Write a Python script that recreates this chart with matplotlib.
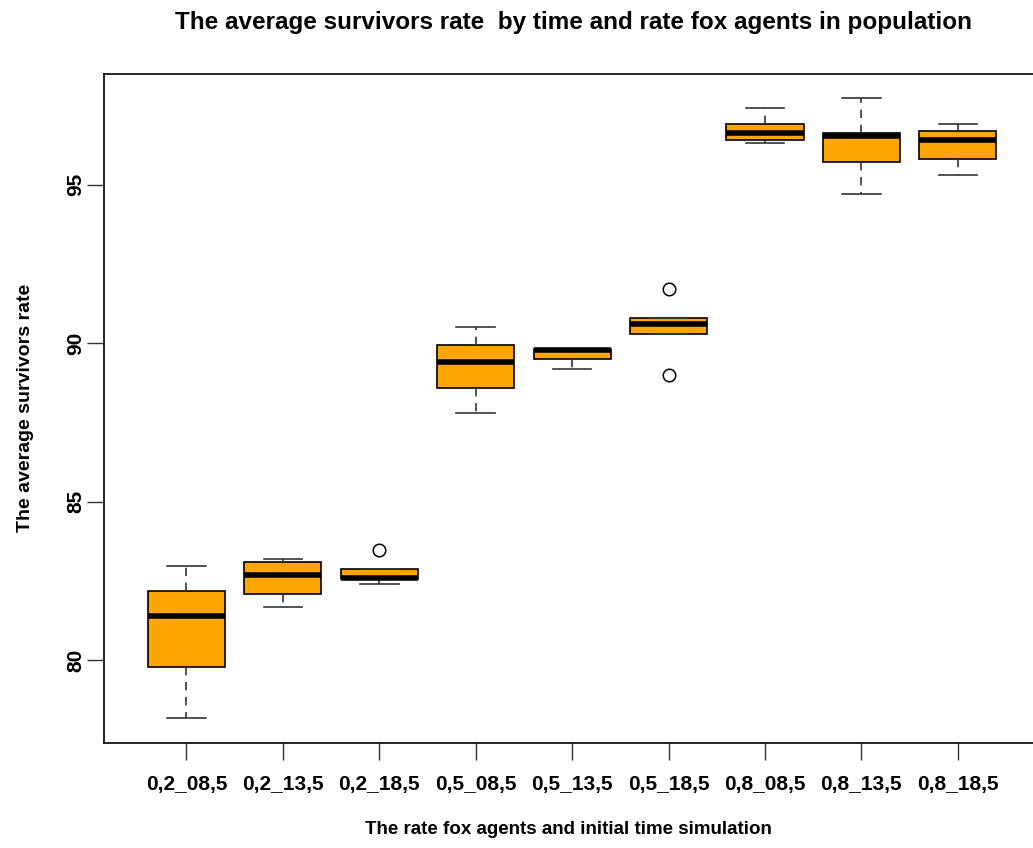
import matplotlib
matplotlib.use("Agg")
import matplotlib.pyplot as plt

# etiquetas de grupos
groups = ['0,2_08,5', '0,2_13,5', '0,2_18,5', '0,5_08,5', '0,5_13,5',
          '0,5_18,5', '0,8_08,5', '0,8_13,5', '0,8_18,5']

# estadisticas
whis_lo = [78.18, 81.68, 82.39, 87.79, 89.19, 90.29, 96.33, 94.72, 95.32]
q1 = [79.80, 82.08, 82.56, 88.59, 89.49, 90.29, 96.42, 95.73, 95.82]
med = [81.39, 82.69, 82.60, 89.40, 89.79, 90.60, 96.63, 96.54, 96.42]
q3 = [82.19, 83.09, 82.89, 89.95, 89.83, 90.80, 96.93, 96.62, 96.71]
whis_hi = [82.98, 83.19, 82.89, 90.50, 89.83, 90.80, 97.42, 97.73, 96.93]
outliers = [[], [], [83.48], [], [], [91.70, 89.00], [], [], []]

plt.rcParams['font.family'] = ['Liberation Sans', 'DejaVu Sans']
plt.rcParams['font.weight'] = 'bold'
plt.rcParams['axes.labelweight'] = 'bold'

fig = plt.figure(figsize=(10.33, 8.48), dpi=100)
ax = fig.add_axes([0.1002, 0.1242, 0.9073, 0.7888])

stats = []
for i in range(len(groups)):
    stats.append({'label': groups[i], 'whislo': whis_lo[i], 'q1': q1[i], 'med': med[i],
                  'q3': q3[i], 'whishi': whis_hi[i], 'fliers': outliers[i]})

ax.bxp(stats, positions=range(1, len(groups) + 1), widths=0.8, patch_artist=True,
       boxprops=dict(facecolor='#FFA500', edgecolor='black', linewidth=1.2),
       medianprops=dict(color='black', linewidth=4, solid_capstyle='butt'),
       whiskerprops=dict(color='#333333', linewidth=1.2, linestyle=(0, (5, 4))),
       capprops=dict(color='#333333', linewidth=1.2),
       capwidths=0.4,
       flierprops=dict(marker='o', markerfacecolor='white', markeredgecolor='black',
                       markersize=9, markeredgewidth=1.1))

ax.set_xlim(0.14, 9.86)
ax.set_ylim(77.4, 98.5)
ax.set_yticks([80, 85, 90, 95])
ax.set_yticklabels(['80', '85', '90', '95'], rotation=90, va='center', fontsize=15)
ax.set_xticklabels(groups, fontsize=15)
ax.tick_params(axis='both', length=12, width=1, color='#333333')
ax.tick_params(axis='x', pad=11)
ax.tick_params(axis='y', pad=1)
for s in ax.spines.values():
    s.set_linewidth(1.2)

ax.set_xlabel('The rate fox agents and initial time simulation', fontsize=13.5)
ax.set_ylabel('The average survivors rate', fontsize=14)
ax.xaxis.set_label_coords(0.4964, -0.1305)
ax.yaxis.set_label_coords(-0.083, 0.5)
ax.xaxis.label.set_va('center')
ax.yaxis.label.set_va('center')
fig.text(0.555, 0.974, 'The average survivors rate  by time and rate fox agents in population',
         fontsize=17.5, fontweight='bold', ha='center', va='center')

fig.savefig('out.png', dpi=100)
